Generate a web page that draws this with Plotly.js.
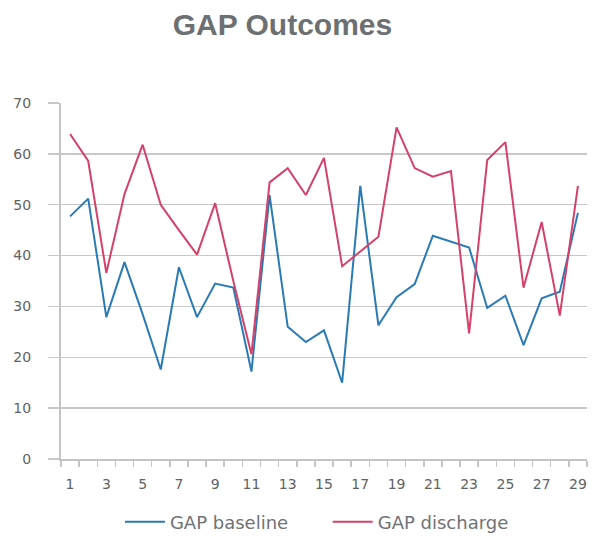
<!DOCTYPE html>
<html>
<head>
<meta charset="utf-8">
<script src="https://cdn.plot.ly/plotly-3.0.1.min.js"></script>
<style>
  html, body { margin: 0; padding: 0; background: #fff; }
  #chart { width: 601px; height: 544px; }
</style>
</head>
<body>
<div id="chart"></div>
<script>
  // categories 1..29
  const cases = [1, 2, 3, 4, 5, 6, 7, 8, 9, 10, 11, 12, 13, 14, 15, 16, 17, 18, 19, 20, 21, 22, 23, 24, 25, 26, 27, 28, 29];
  const gapBaseline = [47.7, 51.2, 27.9, 38.7, 28.5, 17.6, 37.7, 27.9, 34.5, 33.7, 17.2, 51.9, 26, 23, 25.3, 15, 53.7, 26.3, 31.8, 34.4, 43.9, 42.8, 41.6, 29.7, 32.1, 22.4, 31.6, 32.9, 48.4];
  const gapDischarge = [63.9, 58.6, 36.6, 52.1, 61.8, 50, 45, 40.2, 50.3, 35, 20.6, 54.4, 57.2, 51.9, 59.2, 37.9, 40.8, 43.7, 65.2, 57.2, 55.5, 56.6, 24.7, 58.8, 62.3, 33.7, 46.6, 28.2, 53.7];
  const xLabels = cases.filter(c => c % 2 === 1);

  const labelFont = { family: '"DejaVu Sans", sans-serif', size: 14, color: '#606264' };
  const legendFont = { family: '"DejaVu Sans", sans-serif', size: 18, color: '#707275' };

  const traces = [
    {
      x: cases, y: gapBaseline, type: 'scatter', mode: 'lines',
      name: 'GAP baseline', legend: 'legend',
      line: { color: '#2a7ab5', width: 2 }
    },
    {
      x: cases, y: gapDischarge, type: 'scatter', mode: 'lines',
      name: 'GAP discharge', legend: 'legend2',
      line: { color: '#d4416a', width: 2 }
    }
  ];

  const layout = {
    width: 601,
    height: 544,
    paper_bgcolor: '#fff',
    plot_bgcolor: '#fff',
    margin: { l: 61, r: 14, t: 103, b: 85, autoexpand: false },
    title: {
      text: '<b>GAP Outcomes</b>',
      x: 0.47, xanchor: 'center',
      y: 0.955, yanchor: 'middle',
      font: { family: '"Liberation Sans", Arial, sans-serif', size: 30, color: '#6d7073' }
    },
    xaxis: {
      range: [0.5, 29.5],
      tickvals: xLabels,
      ticktext: xLabels.map(String),
      ticks: '',
      showgrid: false,
      zeroline: false,
      showline: true,
      linecolor: '#c4c4c4',
      linewidth: 2,
      tickfont: labelFont,
      ticklabelstandoff: 11,
      automargin: false,
      minor: { ticks: 'outside', tick0: 0.5, dtick: 1, ticklen: 6, tickcolor: '#c4c4c4', tickwidth: 1.5, showgrid: false }
    },
    yaxis: {
      range: [0, 70],
      dtick: 10,
      ticks: 'outside',
      ticklen: 11,
      tickcolor: '#c8c8c8',
      tickwidth: 1.5,
      gridcolor: '#c8c8c8',
      gridwidth: 1.5,
      zeroline: false,
      showline: true,
      linecolor: '#c4c4c4',
      linewidth: 2,
      tickfont: labelFont,
      ticklabelstandoff: 14,
      automargin: false
    },
    showlegend: true,
    legend: {
      orientation: 'h',
      x: 0.112, xanchor: 'left',
      y: -0.177, yanchor: 'middle',
      font: legendFont,
      itemwidth: 40
    },
    legend2: {
      orientation: 'h',
      x: 0.507, xanchor: 'left',
      y: -0.177, yanchor: 'middle',
      font: legendFont,
      itemwidth: 40
    }
  };

  Plotly.newPlot('chart', traces, layout, { displayModeBar: false, staticPlot: true });
</script>
</body>
</html>
